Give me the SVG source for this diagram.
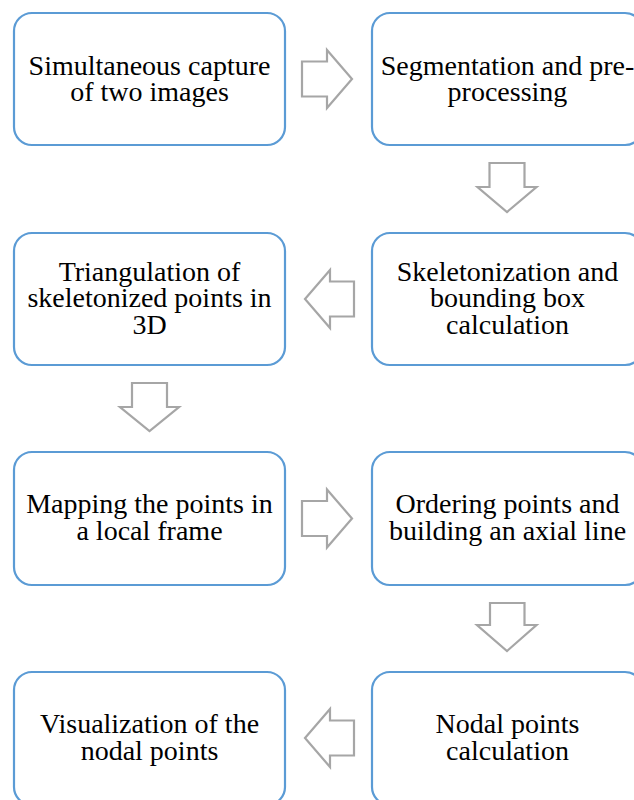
<svg xmlns="http://www.w3.org/2000/svg" width="634" height="800" viewBox="0 0 634 800">
<rect width="634" height="800" fill="#fff"/>
<g id="n1"><rect x="14" y="13" width="271" height="132" rx="18" fill="#fff" stroke="#5B9BD5" stroke-width="2.2"/>
<text x="149.5" y="74.5" text-anchor="middle" font-size="28" font-family="Liberation Serif, serif">Simultaneous capture</text>
<text x="149.5" y="101.2" text-anchor="middle" font-size="28" font-family="Liberation Serif, serif">of two images</text></g>
<g id="n2"><rect x="372" y="13" width="271" height="132" rx="18" fill="#fff" stroke="#5B9BD5" stroke-width="2.2"/>
<text x="507.5" y="74.5" text-anchor="middle" font-size="28" font-family="Liberation Serif, serif">Segmentation and pre-</text>
<text x="507.5" y="101.2" text-anchor="middle" font-size="28" font-family="Liberation Serif, serif">processing</text></g>
<g id="n3"><rect x="372" y="233" width="271" height="132" rx="18" fill="#fff" stroke="#5B9BD5" stroke-width="2.2"/>
<text x="507.5" y="280.5" text-anchor="middle" font-size="28" font-family="Liberation Serif, serif">Skeletonization and</text>
<text x="507.5" y="307.2" text-anchor="middle" font-size="28" font-family="Liberation Serif, serif">bounding box</text>
<text x="507.5" y="333.9" text-anchor="middle" font-size="28" font-family="Liberation Serif, serif">calculation</text></g>
<g id="n4"><rect x="14" y="233" width="271" height="132" rx="18" fill="#fff" stroke="#5B9BD5" stroke-width="2.2"/>
<text x="149.5" y="280.5" text-anchor="middle" font-size="28" font-family="Liberation Serif, serif">Triangulation of</text>
<text x="149.5" y="307.2" text-anchor="middle" font-size="28" font-family="Liberation Serif, serif">skeletonized points in</text>
<text x="149.5" y="333.9" text-anchor="middle" font-size="28" font-family="Liberation Serif, serif">3D</text></g>
<g id="n5"><rect x="14" y="452" width="271" height="133" rx="18" fill="#fff" stroke="#5B9BD5" stroke-width="2.2"/>
<text x="149.5" y="513" text-anchor="middle" font-size="28" font-family="Liberation Serif, serif">Mapping the points in</text>
<text x="149.5" y="539.7" text-anchor="middle" font-size="28" font-family="Liberation Serif, serif">a local frame</text></g>
<g id="n6"><rect x="372" y="452" width="271" height="133" rx="18" fill="#fff" stroke="#5B9BD5" stroke-width="2.2"/>
<text x="507.5" y="513" text-anchor="middle" font-size="28" font-family="Liberation Serif, serif">Ordering points and</text>
<text x="507.5" y="539.7" text-anchor="middle" font-size="28" font-family="Liberation Serif, serif">building an axial line</text></g>
<g id="n7"><rect x="372" y="672" width="271" height="133" rx="18" fill="#fff" stroke="#5B9BD5" stroke-width="2.2"/>
<text x="507.5" y="733.3" text-anchor="middle" font-size="28" font-family="Liberation Serif, serif">Nodal points</text>
<text x="507.5" y="760" text-anchor="middle" font-size="28" font-family="Liberation Serif, serif">calculation</text></g>
<g id="n8"><rect x="14" y="672" width="271" height="133" rx="18" fill="#fff" stroke="#5B9BD5" stroke-width="2.2"/>
<text x="149.5" y="733.3" text-anchor="middle" font-size="28" font-family="Liberation Serif, serif">Visualization of the</text>
<text x="149.5" y="760" text-anchor="middle" font-size="28" font-family="Liberation Serif, serif">nodal points</text></g>
<g id="connectors" fill="#fff" stroke="#A6A6A6" stroke-width="2.2">
<path d="M302,61.5 H327 V50 L352,79 L327,108 V96.5 H302 Z"/>
<path d="M489.5,163 H524.5 V187 H536.5 L507,212 L477.5,187 H489.5 Z"/>
<path d="M354,281.5 H330 V270 L305,299 L330,328 V316.5 H354 Z"/>
<path d="M132,383 H167 V407 H179 L149.5,431 L120,407 H132 Z"/>
<path d="M302,501 H327 V489.5 L352,518.5 L327,547.5 V536 H302 Z"/>
<path d="M490,603 H524.5 V625 H536.5 L507,651 L477,625 H490 Z"/>
<path d="M354,720.5 H330 V709 L305,738 L330,767 V755.5 H354 Z"/>
</g>
</svg>
